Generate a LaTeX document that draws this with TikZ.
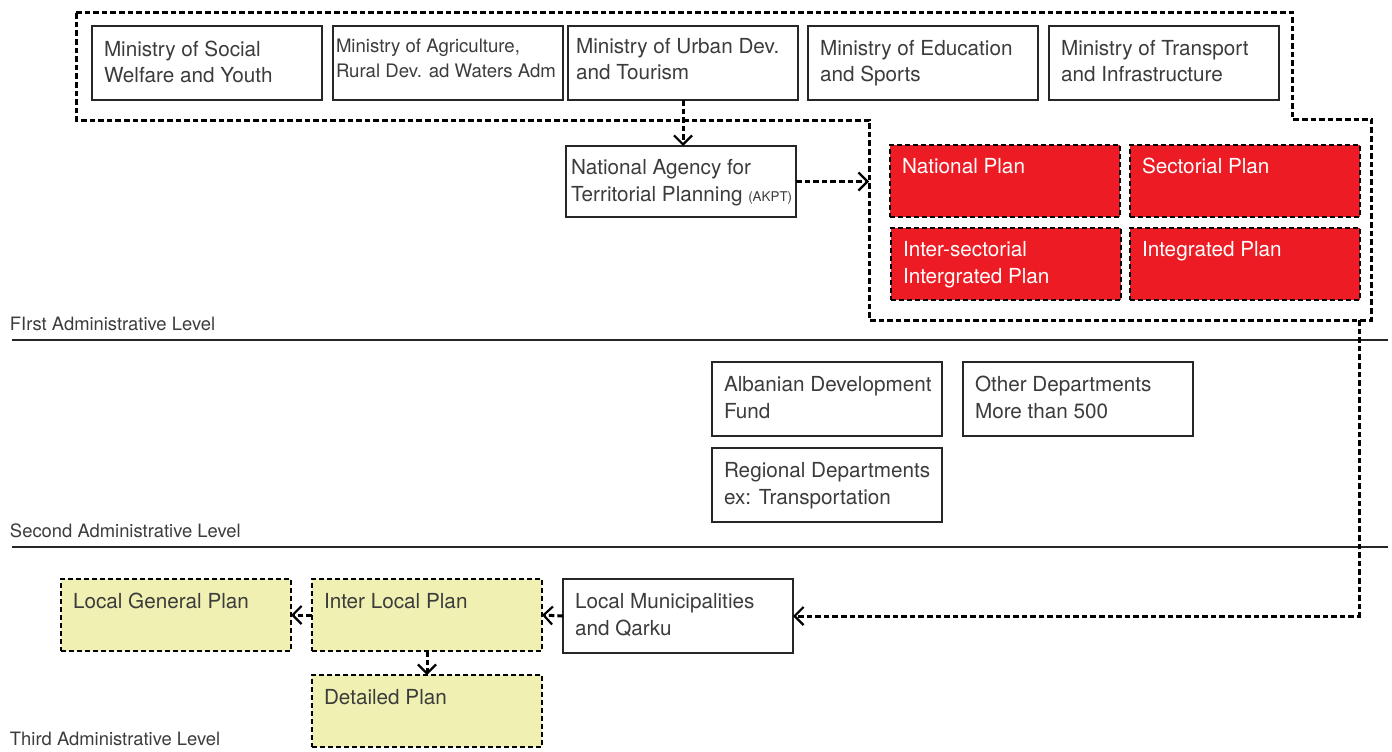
\documentclass[tikz,border=0pt]{standalone}
\usepackage{fontspec}
\setmainfont{TeX Gyre Heros}
\usetikzlibrary{arrows.meta}
\definecolor{planred}{HTML}{ED1C24}
\definecolor{planyellow}{HTML}{EFF0B2}
\definecolor{inkgray}{HTML}{3C3C3C}

\begin{document}
\begin{tikzpicture}[x=0.5pt,y=-0.5pt,
  every node/.style={inner sep=0pt, outer sep=0pt},
  box/.style={draw=black!85, line width=0.8pt, fill=white,
    minimum width=115pt, minimum height=37pt, anchor=north west},
  plan/.style={box, draw=black, dash pattern=on 2.6pt off 1.4pt,
    line width=1.35pt, minimum height=36pt},
  redplan/.style={plan, fill=planred},
  yellowplan/.style={plan, fill=planyellow},
  boxtext/.style={font=\fontsize{10.35}{13.5}\selectfont, text=inkgray, align=left},
  txt/.style={label={[boxtext, anchor=north west, xshift=6pt, yshift=-7.2pt]north west:{#1}}},
  wtxt/.style={label={[boxtext, text=white, anchor=north west, xshift=6pt, yshift=-6.5pt]north west:{#1}}},
  flow/.style={draw=black, line width=1.5pt, dash pattern=on 2.8pt off 1.5pt},
  arr/.style={flow, -{Straight Barb[length=4.5pt,width=9pt,line width=1.1pt]}},
  level/.style={font=\fontsize{9.2}{11}\selectfont, text=inkgray, anchor=base west},
  levelline/.style={draw=black!85, line width=0.9pt},
  ]
\useasboundingbox (0,0) rectangle (1392,751);

% ---------- ministries ----------
\node[box, label={[boxtext, anchor=north west, xshift=6pt, yshift=-7.7pt, font=\fontsize{10.35}{13}\selectfont]north west:{Ministry of Social\\Welfare and Youth}}] (m1) at (92,26) {};
\node[box, label={[boxtext, anchor=north west, xshift=1.5pt, yshift=-6.2pt, font=\fontsize{9.3}{12.5}\selectfont]north west:{Ministry of Agriculture,\\Rural Dev. ad Waters Adm}}] (m2) at (333,26) {};
\node[box, label={[boxtext, anchor=north west, xshift=4pt, yshift=-6.2pt, font=\fontsize{10.35}{13}\selectfont]north west:{Ministry of Urban Dev.\\and Tourism}}] (m3) at (568,26) {};
\node[box, label={[boxtext, anchor=north west, xshift=6pt, yshift=-7.2pt, font=\fontsize{10.35}{13}\selectfont]north west:{Ministry of Education\\and Sports}}] (m4) at (808,26) {};
\node[box, label={[boxtext, anchor=north west, xshift=6pt, yshift=-7.2pt, font=\fontsize{10.35}{13}\selectfont]north west:{Ministry of Transport\\and Infrastructure}}] (m5) at (1049,26) {};

% ---------- national agency ----------
\node[box, minimum height=35.5pt, label={[boxtext, anchor=north west, xshift=2.5pt, yshift=-6.7pt]north west:{National Agency for\\Territorial Planning {\fontsize{6.7}{8}\selectfont(AKPT)}}}] (akpt) at (566,146) {};

% ---------- national plans ----------
\node[redplan, wtxt={National Plan}] (np) at (890,145) {};
\node[redplan, wtxt={Sectorial Plan}] (sp) at (1130,145) {};
\node[redplan, wtxt={Inter-sectorial\\Intergrated Plan}] (isp) at (891,228) {};
\node[redplan, wtxt={Integrated Plan}] (ip) at (1130,228) {};

% ---------- grouping outline ----------
\coordinate (o1) at (76,12);
\coordinate (o2) at (1292,12);
\coordinate (o3) at (1292,119);
\coordinate (o4) at (1371,119);
\coordinate (o5) at (1371,320);
\coordinate (o6) at (869,320);
\coordinate (o7) at (869,120);
\coordinate (o8) at (76,120);
\draw[flow] (o1) -- (o2) -- (o3) -- (o4) -- (o5) -- (o6) -- (o7) -- (o8) -- cycle;
\coordinate (oS) at (1359,320);

% ---------- second level ----------
\node[box, txt={Albanian Development\\Fund}] (adf) at (712,362) {};
\node[box, txt={Other Departments\\More than 500}] (od) at (963,362) {};
\node[box, txt={Regional Departments\\ex: Transportation}] (rd) at (712,448) {};

% ---------- third level ----------
\node[box, txt={Local Municipalities\\and Qarku}] (lm) at (563,579) {};
\node[yellowplan, txt={Inter Local Plan}] (ilp) at (312,579) {};
\node[yellowplan, txt={Local General Plan}] (lgp) at (61,579) {};
\node[yellowplan, txt={Detailed Plan}] (dp) at (312,675) {};

% ---------- level separators ----------
\node[level] (lv1) at (10,330) {FIrst Administrative Level};
\node[level] (lv2) at (10,537) {Second Administrative Level};
\node[level] (lv3) at (10,745) {Third Administrative Level};
\draw[levelline] (12,340) -- (1388,340);
\draw[levelline] (12,547) -- (1388,547);

% ---------- connectors ----------
\draw[arr] (m3.south) -- (m3.south |- akpt.north);
\draw[arr] (akpt.east) -- (akpt.east -| o6);
\draw[arr] (oS) |- (lm.east);
\draw[arr] (lm.west) -- (ilp.east);
\draw[arr] (ilp.west) -- (lgp.east);
\draw[arr] (ilp.south) -- (dp.north);
\end{tikzpicture}
\end{document}
